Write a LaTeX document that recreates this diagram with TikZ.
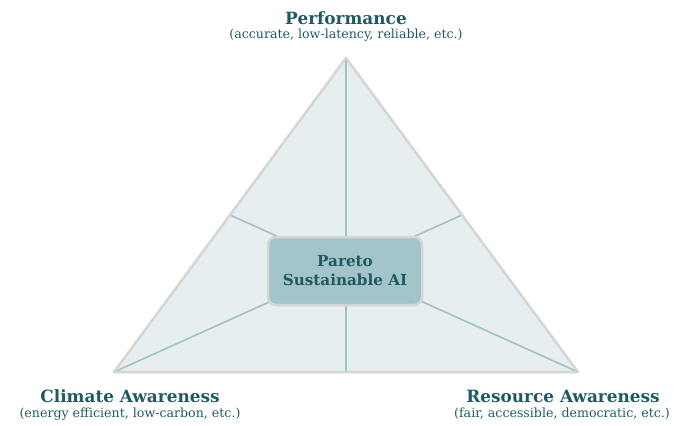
\documentclass[tikz,border=0pt]{standalone}
\usepackage{fontspec}
\usetikzlibrary{calc}
\setmainfont{DejaVu Serif}
\definecolor{tealtxt}{HTML}{1F5A63}
\definecolor{trifill}{HTML}{E6EEF0}
\definecolor{triedge}{HTML}{D5D5D5}
\definecolor{median}{HTML}{9FC3C7}
\definecolor{boxfill}{HTML}{A3C4C9}
\begin{document}
\begin{tikzpicture}[x=1pt,y=-1pt,
  title/.style={font=\bfseries\fontsize{16.9}{19}\selectfont, text=tealtxt, inner sep=0pt},
  sub/.style={font=\fontsize{12.6}{14}\selectfont, text=tealtxt, inner sep=0pt},
  medline/.style={draw=median, line width=1.6pt},
  centerbox/.style={draw=triedge, fill=boxfill, line width=2.5pt, rounded corners=8pt,
    minimum width=154pt, minimum height=68pt, align=center, text=tealtxt,
    font=\bfseries\fontsize{15.2}{19}\selectfont}]
\useasboundingbox (0,0) rectangle (676,425);
\coordinate (A) at (346,58);
\coordinate (B) at (114,372);
\coordinate (C) at (578,372);
\coordinate (mAB) at ($(A)!0.5!(B)$);
\coordinate (mAC) at ($(A)!0.5!(C)$);
\coordinate (mBC) at ($(B)!0.5!(C)$);
\fill[trifill] (A) -- (B) -- (C) -- cycle;
\draw[medline] (A) -- (mBC);
\draw[medline] (B) -- (mAC);
\draw[medline] (C) -- (mAB);
\draw[triedge, line width=2.5pt, line join=round] (A) -- (B) -- (C) -- cycle;
\node[centerbox] (core) at (345,271) {Pareto\\Sustainable AI};
\node[title] (perf) at (346,18) {Performance};
\node[sub] (perfsub) at (346,35) {(accurate, low-latency, reliable, etc.)};
\node[title] (clim) at (130,396) {Climate Awareness};
\node[sub] (climsub) at (130,414) {(energy efficient, low-carbon, etc.)};
\node[title] (res) at (563,396) {Resource Awareness};
\node[sub] (ressub) at (562,414) {(fair, accessible, democratic, etc.)};
\end{tikzpicture}
\end{document}
